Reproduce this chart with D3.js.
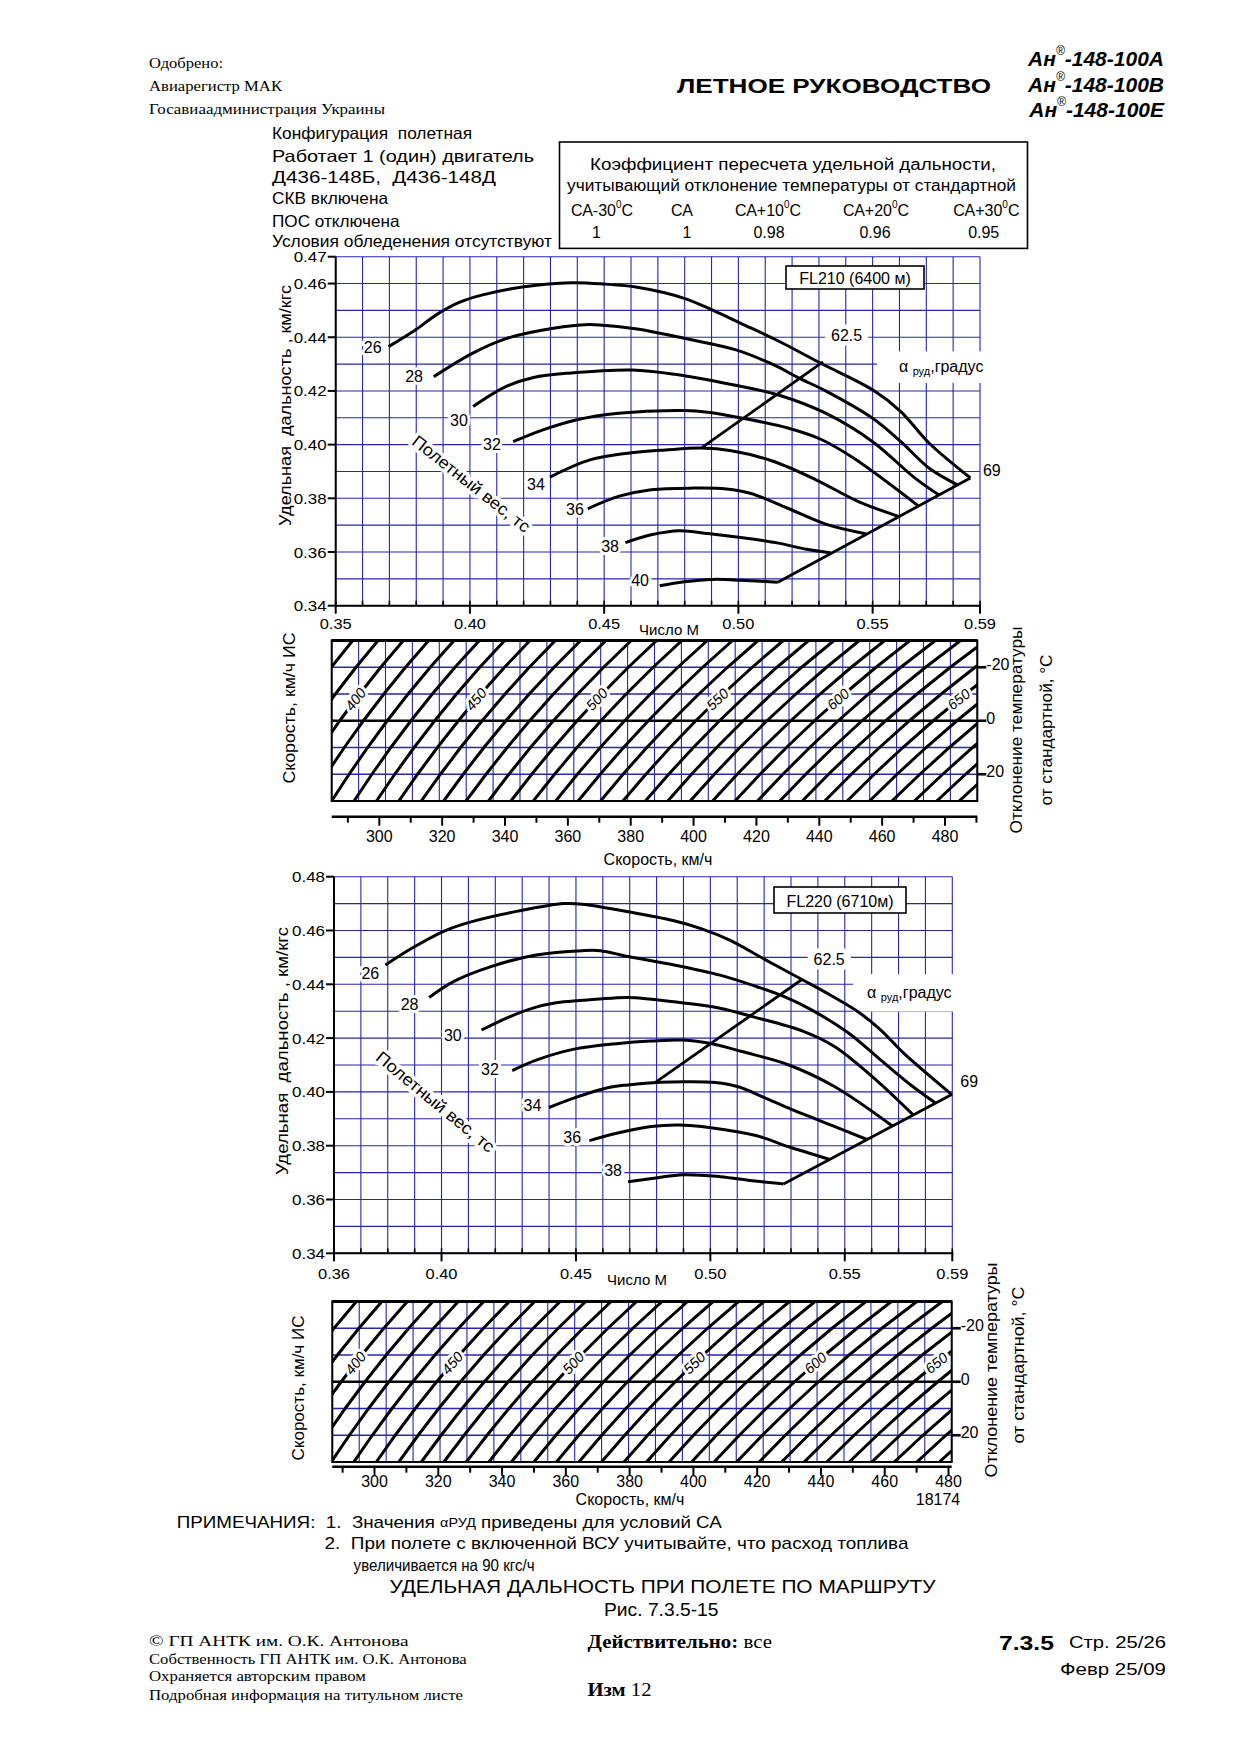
<!DOCTYPE html>
<html><head><meta charset="utf-8">
<script src="https://cdn.jsdelivr.net/npm/d3@7"></script>
<style>body{margin:0;background:#fff} text{white-space:pre}</style></head>
<body><script>
// ---------------- DATA ----------------
const coefLabels = ["СА-30", "СА", "СА+10", "СА+20", "СА+30"];
const coefValues = ["1", "1", "0.98", "0.96", "0.95"];
const infoLines = ["Конфигурация  полетная", "Работает 1 (один) двигатель", "Д436-148Б,  Д436-148Д", "СКВ включена", "ПОС отключена", "Условия обледенения отсутствуют"];

const fl210MachTicks = [0.35, 0.40, 0.45, 0.50, 0.55, 0.59];
const fl210RatioTicks = [0.34, 0.36, 0.38, 0.40, 0.42, 0.44, 0.46, 0.47];
const fl220MachTicks = [0.36, 0.40, 0.45, 0.50, 0.55, 0.59];
const fl220RatioTicks = [0.34, 0.36, 0.38, 0.40, 0.42, 0.44, 0.46, 0.48];
const fl210Weights = [26, 28, 30, 32, 34, 36, 38, 40];
const fl220Weights = [26, 28, 30, 32, 34, 36, 38];
const fl210LabelPos = [[0.3638,0.4363],[0.3792,0.4255],[0.3959,0.4091],[0.4082,0.4002],[0.4246,0.3851],[0.4391,0.3760],[0.4522,0.3619],[0.4634,0.3495]];
const fl220LabelPos = [[0.3735,0.4441],[0.3881,0.4324],[0.4042,0.4209],[0.4180,0.4082],[0.4338,0.3951],[0.4486,0.3829],[0.4638,0.3706]];

// FL210 specific range curves [Mach, km/kgf]
const fl210_26 = [[0.3697,0.4365],[0.3798,0.4428],[0.3880,0.4487],[0.3960,0.4530],[0.4044,0.4557],[0.4202,0.4588],[0.4377,0.4603],[0.45,0.4598],[0.4623,0.4586],[0.4798,0.4545],[0.4904,0.4501],[0.5009,0.4452],[0.5149,0.4386],[0.5307,0.4303],[0.55,0.4204],[0.5605,0.4123],[0.5711,0.4005],[0.5864,0.3876]];
const fl210_28 = [[0.3865,0.4253],[0.4009,0.4340],[0.4132,0.4394],[0.4272,0.4427],[0.4412,0.4446],[0.4482,0.4446],[0.4623,0.4431],[0.4798,0.4396],[0.4991,0.4353],[0.5132,0.4297],[0.5228,0.4247],[0.5325,0.4200],[0.55,0.4098],[0.5605,0.4011],[0.5711,0.3912],[0.5816,0.3850]];
const fl210_30 = [[0.4012,0.4142],[0.4132,0.4215],[0.4237,0.4250],[0.4377,0.4267],[0.4605,0.4278],[0.4763,0.4262],[0.4974,0.4224],[0.5149,0.4185],[0.5325,0.4117],[0.55,0.4011],[0.5658,0.3875],[0.5746,0.3813]];
const fl210_32 = [[0.4161,0.4011],[0.4272,0.4055],[0.4395,0.4092],[0.4553,0.4117],[0.4798,0.4127],[0.4886,0.4121],[0.5018,0.4098],[0.5184,0.4062],[0.5307,0.4020],[0.543,0.3949],[0.5670,0.3772]];
const fl210_34 = [[0.4298,0.3879],[0.4447,0.3943],[0.4588,0.3968],[0.4728,0.3980],[0.486,0.3987],[0.4974,0.3977],[0.5132,0.3937],[0.5289,0.3869],[0.5447,0.3788],[0.5596,0.3733]];
const fl210_36 = [[0.4439,0.3761],[0.4553,0.3807],[0.4675,0.3832],[0.4833,0.3838],[0.4956,0.3835],[0.5044,0.3819],[0.5184,0.3763],[0.5325,0.3704],[0.5474,0.3668]];
const fl210_38 = [[0.4579,0.3635],[0.4675,0.3664],[0.4781,0.3679],[0.4886,0.3669],[0.5009,0.3654],[0.5149,0.3633],[0.5254,0.3610],[0.5342,0.3597]];
const fl210_40 = [[0.4707,0.3474],[0.4798,0.3489],[0.4904,0.3498],[0.5009,0.3495],[0.5147,0.3487]];
const fl210_alpha69 = [[0.5147,0.3487],[0.5864,0.3876]];
const fl210_alpha625 = [[0.4865,0.3990],[0.5315,0.4308]];

// FL220 specific range curves
const fl220_26 = [[0.3791,0.4472],[0.3891,0.4535],[0.401,0.4598],[0.4113,0.4633],[0.4284,0.4672],[0.4455,0.4700],[0.4523,0.4698],[0.4694,0.4670],[0.4865,0.4636],[0.4968,0.4606],[0.507,0.4565],[0.5207,0.4490],[0.5344,0.4416],[0.5446,0.4360],[0.5549,0.4298],[0.5634,0.4230],[0.572,0.4143],[0.5898,0.3990]];
const fl220_28 = [[0.3954,0.4351],[0.4044,0.4410],[0.4181,0.4465],[0.4352,0.4509],[0.4523,0.4525],[0.4591,0.4525],[0.4694,0.4503],[0.4865,0.4472],[0.5036,0.4434],[0.5173,0.4391],[0.5275,0.4354],[0.5378,0.4304],[0.5515,0.4218],[0.5634,0.4118],[0.5754,0.4019],[0.5836,0.3960]];
const fl220_30 = [[0.4149,0.4230],[0.4255,0.4280],[0.4358,0.4317],[0.4455,0.4335],[0.4574,0.4344],[0.4694,0.4351],[0.4865,0.4335],[0.5036,0.4311],[0.5156,0.4280],[0.5344,0.4226],[0.5463,0.4168],[0.5617,0.4044],[0.5755,0.3914]];
const fl220_32 = [[0.4263,0.4079],[0.4352,0.4118],[0.4489,0.4158],[0.466,0.4180],[0.4779,0.4189],[0.4899,0.4193],[0.5002,0.4180],[0.5121,0.4149],[0.5292,0.4100],[0.5463,0.4019],[0.5677,0.3873]];
const fl220_34 = [[0.44,0.3942],[0.4489,0.3976],[0.4626,0.4017],[0.4694,0.4026],[0.4814,0.4036],[0.4916,0.4038],[0.5019,0.4035],[0.5104,0.4019],[0.5207,0.3976],[0.5344,0.3918],[0.5463,0.3871],[0.5583,0.3823]];
const fl220_36 = [[0.4550,0.3819],[0.466,0.3848],[0.4779,0.3871],[0.4882,0.3877],[0.5002,0.3867],[0.5173,0.3837],[0.5292,0.3796],[0.5446,0.3748]];
const fl220_38 = [[0.4694,0.3666],[0.4797,0.3680],[0.4899,0.3692],[0.5036,0.3685],[0.5156,0.3670],[0.5272,0.3658]];
const fl220_alpha69 = [[0.5272,0.3658],[0.5898,0.3990]];
const fl220_alpha625 = [[0.4797,0.4036],[0.5338,0.4416]];

// lower panels: true airspeed lines, km/h
const tasLines = [380,390,400,410,420,430,440,450,460,470,480,490,500,510,520,530,540,550,560,570,580,590,600,610,620,630,640,650,660,670,680,690,700];
const tasLabels = [400, 450, 500, 550, 600, 650];
const tempSamples = [-30, -20, -10, 0, 10, 20, 30];
const tempTicks = [-20, 0, 20];
const tempGrid = [-20, -10, 10, 20];
const speedTicks1 = [290,300,310,320,330,340,350,360,370,380,390,400,410,420,430,440,450,460,470,480,490];
const speedTicks2 = [290,300,310,320,330,340,350,360,370,380,390,400,410,420,430,440,450,460,470,480];
const speedLabels = [300,320,340,360,380,400,420,440,460,480];
const altitude1 = 6400, altitude2 = 6710;

// ---------------- DRAWING ----------------
const SANS = "'Liberation Sans', Arial, Helvetica, sans-serif";
const SERIF = "'Liberation Serif', 'Times New Roman', serif";
const GRID = "#2626b0";

const svg = d3.select('body').append('svg').attr('width',1240).attr('height',1755);
svg.append('rect').attr('width',1240).attr('height',1755).attr('fill','#fff');

function txt(parent, x, y, s, o = {}) {
  const t = parent.append('text').attr('x', x).attr('y', y)
    .attr('font-family', o.ff || SANS).attr('font-size', o.fs || 16)
    .attr('text-anchor', o.a || 'start').attr('dominant-baseline', 'central')
    .attr('fill', '#000');
  if (s != null) t.text(s);
  if (o.fw) t.attr('font-weight', o.fw);
  if (o.fst) t.attr('font-style', o.fst);
  if (o.len) t.attr('textLength', o.len).attr('lengthAdjust', 'spacingAndGlyphs');
  if (o.halo) t.attr('stroke', '#fff').attr('stroke-width', o.halo).attr('paint-order', 'stroke').attr('stroke-linejoin', 'round');
  if (o.rot != null) t.attr('transform', `rotate(${o.rot},${x},${y})`);
  return t;
}

// ---- header ----
txt(svg, 149, 63, "Одобрено:", {ff: SERIF, fs: 15, len: 74});
txt(svg, 149, 86, "Авиарегистр МАК", {ff: SERIF, fs: 15, len: 133});
txt(svg, 149, 108.5, "Госавиаадминистрация Украины", {ff: SERIF, fs: 15, len: 236});
txt(svg, 677, 85, "ЛЕТНОЕ РУКОВОДСТВО", {fs: 21, fw: 'bold', len: 314});
["А", "В", "Е"].forEach((v, i) => {
  const t = txt(svg, 1164, [58, 84, 108.5][i], null, {fs: 21, fw: 'bold', fst: 'italic', a: 'end'});
  t.append('tspan').text("Ан");
  t.append('tspan').attr('font-size', 12).attr('font-weight', 'normal').attr('dy', -7).text("®");
  t.append('tspan').attr('dy', 7).text("-148-100" + v);
});
infoLines.forEach((s, i) => {
  const lens = [200, 262, 224, 116, 127.5, 280];
  txt(svg, 272, [133, 155.5, 177, 198, 220.5, 240.6][i], s, {fs: 16.5, len: lens[i]});
});
svg.append('rect').attr('x', 559.5).attr('y', 142).attr('width', 468).attr('height', 106.4)
  .attr('fill', '#fff').attr('stroke', '#000').attr('stroke-width', 1.6);
txt(svg, 793, 164.5, "Коэффициент пересчета удельной дальности,", {fs: 16, a: 'middle', len: 406});
txt(svg, 791.5, 185.8, "учитывающий отклонение температуры от стандартной", {fs: 16, a: 'middle', len: 449});
const coefX = [602, 682, 768, 876, 986.4];
const coefVX = [596.5, 687, 769, 875, 983.7];
coefLabels.forEach((s, i) => {
  const t = txt(svg, coefX[i], 210.4, null, {fs: 16, a: 'middle'});
  t.append('tspan').text(s);
  if (i !== 1) {
    t.append('tspan').attr('font-size', 10).attr('dy', -6).text("0");
    t.append('tspan').attr('dy', 6).text("С");
  }
  txt(svg, coefVX[i], 232.8, coefValues[i], {fs: 16, a: 'middle'});
});

// ---- upper chart ----
function drawUpper(c) {
  const gGrid = svg.append('g'), gBg = svg.append('g'), gCurv = svg.append('g'), gTxt = svg.append('g');
  const [m0, m1] = c.x.domain(), [r0, r1] = c.y.domain();
  const nx = Math.round((m1 - m0) / 0.01), ny = Math.round((r1 - r0) / 0.01);
  for (let i = 0; i <= nx; i++) {
    const X = c.x(m0 + i * 0.01);
    gGrid.append('line').attr('x1', X).attr('x2', X).attr('y1', c.y(r0)).attr('y2', c.y(r1)).attr('stroke', GRID).attr('stroke-width', 1.1);
  }
  for (let j = 0; j <= ny; j++) {
    const Y = c.y(r0 + j * 0.01);
    gGrid.append('line').attr('x1', c.x(m0)).attr('x2', c.x(m1)).attr('y1', Y).attr('y2', Y).attr('stroke', GRID).attr('stroke-width', 1.1);
  }
  const ax = svg.append('g');
  ax.append('line').attr('x1', c.x(m0)).attr('x2', c.x(m0)).attr('y1', c.y(r0) + 1).attr('y2', c.y(r1)).attr('stroke', '#000').attr('stroke-width', 2);
  ax.append('line').attr('x1', c.x(m0)).attr('x2', c.x(m1) + 1).attr('y1', c.y(r0)).attr('y2', c.y(r0)).attr('stroke', '#000').attr('stroke-width', 2);
  for (let i = 0; i <= nx; i++) {
    const X = c.x(m0 + i * 0.01);
    ax.append('line').attr('x1', X).attr('x2', X).attr('y1', c.y(r0)).attr('y2', c.y(r0) - 5).attr('stroke', '#000').attr('stroke-width', 1.6);
  }
  c.xTicks.forEach(m => {
    ax.append('line').attr('x1', c.x(m)).attr('x2', c.x(m)).attr('y1', c.y(r0)).attr('y2', c.y(r0) + 8).attr('stroke', '#000').attr('stroke-width', 2);
    txt(ax, c.x(m), c.xLabY, d3.format('.2f')(m), {fs: 15.5, a: 'middle', len: 32});
  });
  c.yTicks.forEach(r => {
    ax.append('line').attr('x1', c.x(m0) - 8).attr('x2', c.x(m0)).attr('y1', c.y(r)).attr('y2', c.y(r)).attr('stroke', '#000').attr('stroke-width', 2);
    txt(ax, c.x(m0) - 9, c.y(r), d3.format('.2f')(r), {fs: 15.5, a: 'end', len: 33});
  });
  txt(ax, c.machTitle[0], c.machTitle[1], "Число М", {fs: 15, a: 'middle'});
  txt(ax, c.yTitle[0], c.yTitle[1], "Удельная  дальность , км/кгс", {fs: 16, a: 'middle', rot: -90, len: c.yTitle[2]});

  // curves
  const line = d3.line().x(d => c.x(d[0])).y(d => c.y(d[1])).curve(d3.curveCatmullRom.alpha(0.5));
  const straight = d3.line().x(d => c.x(d[0])).y(d => c.y(d[1]));
  c.curves.forEach(cv => gCurv.append('path').attr('d', line(cv)).attr('fill', 'none').attr('stroke', '#000').attr('stroke-width', 3).attr('stroke-linejoin', 'round'));
  [c.a69, c.a625].forEach(cv => gCurv.append('path').attr('d', straight(cv)).attr('fill', 'none').attr('stroke', '#000').attr('stroke-width', 2.8));

  // labels
  c.weights.forEach((w, i) => txt(gTxt, c.x(c.labelPos[i][0]), c.y(c.labelPos[i][1]), String(w), {fs: 16, a: 'middle', halo: 6}));
  const wt = c.weightTitle;
  txt(gTxt, c.x(wt[0]), c.y(wt[1]), "Полетный вес, тс", {fs: 17, a: 'middle', rot: wt[2], len: wt[3], halo: 7});
  const l625 = txt(gTxt, c.x(c.lbl625[0]), c.y(c.lbl625[1]), "62.5", {fs: 16, a: 'middle'});
  const la = txt(gTxt, c.x(c.lblAlpha[0]), c.y(c.lblAlpha[1]), null, {fs: 16});
  la.append('tspan').text("α ");
  la.append('tspan').attr('font-size', 11).attr('dy', 5).text("руд");
  la.append('tspan').attr('dy', -5).text(",градус");
  txt(gTxt, c.x(c.lbl69[0]), c.y(c.lbl69[1]), "69", {fs: 16, a: 'middle', halo: 5});
  const b1 = l625.node().getBBox();
  gBg.append('rect').attr('x', b1.x - 6).attr('y', b1.y - 2).attr('width', b1.width + 12).attr('height', b1.height + 4).attr('fill', '#fff');
  const b2 = la.node().getBBox();
  gBg.append('rect').attr('x', b2.x - c.alphaPad[0]).attr('y', b2.y - c.alphaPad[1]).attr('width', b2.width + c.alphaPad[0] + 8).attr('height', b2.height + 2 * c.alphaPad[1]).attr('fill', '#fff');
  // box
  const bx = c.box;
  gTxt.append('rect').attr('x', bx[0]).attr('y', bx[1]).attr('width', bx[2] - bx[0]).attr('height', bx[3] - bx[1]).attr('fill', '#fff').attr('stroke', '#000').attr('stroke-width', 1.6);
  txt(gTxt, (bx[0] + bx[2]) / 2, (bx[1] + bx[3]) / 2 + 1, bx[4], {fs: 16, a: 'middle'});
}

// ---- lower (temperature / speed) panel ----
function drawPanel(p) {
  const g = svg.append('g');
  const [m0, m1] = p.x.domain();
  const L = p.x(m0), R = p.x(m1), Tp = p.t(-30), B = p.t(30);
  const id = 'clip' + p.id;
  svg.append('clipPath').attr('id', id).append('rect').attr('x', L).attr('y', Tp).attr('width', R - L).attr('height', B - Tp);
  const nx = Math.round((m1 - m0) / 0.01);
  for (let i = 0; i <= nx; i++) {
    const X = p.x(m0 + i * 0.01);
    g.append('line').attr('x1', X).attr('x2', X).attr('y1', Tp).attr('y2', B).attr('stroke', GRID).attr('stroke-width', 1.1);
  }
  tempGrid.forEach(v => g.append('line').attr('x1', L).attr('x2', R).attr('y1', p.t(v)).attr('y2', p.t(v)).attr('stroke', GRID).attr('stroke-width', 1.3));
  g.append('line').attr('x1', L).attr('x2', R).attr('y1', p.t(0)).attr('y2', p.t(0)).attr('stroke', '#000').attr('stroke-width', 2.6);
  const tisa = 288.15 - 0.0065 * p.alt;
  const mach = (v, dT) => v / (3.6 * 20.0468 * Math.sqrt(tisa + dT));
  const lg = d3.line().x(d => p.x(mach(d.v, d.dT))).y(d => p.t(d.dT));
  tasLines.forEach(v => g.append('path').attr('clip-path', `url(#${id})`)
    .attr('d', lg(tempSamples.map(dT => ({v, dT})))).attr('fill', 'none').attr('stroke', '#000').attr('stroke-width', 3));
  g.append('rect').attr('x', L).attr('y', Tp).attr('width', R - L).attr('height', B - Tp).attr('fill', 'none').attr('stroke', '#000').attr('stroke-width', 2);
  g.append('line').attr('x1', L).attr('x2', R).attr('y1', Tp).attr('y2', Tp).attr('stroke', '#000').attr('stroke-width', 3);
  // TAS labels on lines
  tasLabels.forEach(v => {
    let lv = v;
    if (p.x(mach(lv, p.labDT)) < L + 15) lv = v + 10;
    const X = p.x(mach(lv, p.labDT)), Y = p.t(p.labDT);
    const xa = p.x(mach(lv, p.labDT - 3)), ya = p.t(p.labDT - 3);
    const xb = p.x(mach(lv, p.labDT + 3)), yb = p.t(p.labDT + 3);
    const ang = Math.atan2(ya - yb, xa - xb) * 180 / Math.PI;
    txt(g, X, Y, String(v), {fs: 14.5, a: 'middle', rot: ang, halo: 6, fst: 'italic'});
  });
  // right temperature axis
  tempTicks.forEach(v => {
    g.append('line').attr('x1', R).attr('x2', R + 9).attr('y1', p.t(v)).attr('y2', p.t(v)).attr('stroke', '#000').attr('stroke-width', 2.6);
    txt(g, R + 9, p.t(v) - 2.5, v < 0 ? "-" + Math.abs(v) : String(v), {fs: 16});
  });
  // speed axis
  g.append('line').attr('x1', L).attr('x2', R).attr('y1', p.axisY).attr('y2', p.axisY).attr('stroke', '#000').attr('stroke-width', 2.4);
  p.speedTicks.forEach(v => {
    const big = speedLabels.includes(v);
    g.append('line').attr('x1', p.s(v)).attr('x2', p.s(v)).attr('y1', p.axisY).attr('y2', p.axisY + (big ? 9 : 6)).attr('stroke', '#000').attr('stroke-width', 2);
  });
  speedLabels.forEach(v => txt(g, p.s(v), p.speedLabY, String(v), {fs: 16, a: 'middle'}));
  txt(g, p.speedTitle[0], p.speedTitle[1], "Скорость, км/ч", {fs: 16, a: 'middle'});
  txt(g, p.leftTitle[0], p.leftTitle[1], "Скорость, км/ч ИС", {fs: 16, a: 'middle', rot: -90, len: p.leftTitle[2]});
  txt(g, p.rTitle1[0], p.rTitle1[1], "Отклонение температуры", {fs: 16, a: 'middle', rot: -90, len: p.rTitle1[2]});
  txt(g, p.rTitle2[0], p.rTitle2[1], "от стандартной, °С", {fs: 16, a: 'middle', rot: -90, len: p.rTitle2[2]});
}

drawUpper({
  x: d3.scaleLinear([0.35, 0.59], [335.7, 980]), y: d3.scaleLinear([0.34, 0.47], [605.7, 256.7]),
  xTicks: fl210MachTicks, yTicks: fl210RatioTicks, xLabY: 623, machTitle: [669, 629], yTitle: [285, 405.5, 241],
  curves: [fl210_26, fl210_28, fl210_30, fl210_32, fl210_34, fl210_36, fl210_38, fl210_40],
  weights: fl210Weights, labelPos: fl210LabelPos, a69: fl210_alpha69, a625: fl210_alpha625,
  weightTitle: [0.4004, 0.3853, 38.3, 145], lbl625: [0.5403, 0.4408], lblAlpha: [0.5598, 0.4293], lbl69: [0.5944, 0.3905],
  alphaPad: [22, 6], box: [786, 266, 924, 289, "FL210 (6400 м)"]
});
drawPanel({
  id: 1, alt: altitude1, x: d3.scaleLinear([0.35, 0.59], [331.7, 977.3]), t: d3.scaleLinear([-30, 30], [640.5, 801]),
  s: d3.scaleLinear([300, 480], [379.3, 945]), speedTicks: speedTicks1, axisY: 816.7, speedLabY: 836.7, labDT: -8,
  speedTitle: [658, 859.5], leftTitle: [289, 708, 151], rTitle1: [1016, 730, 207], rTitle2: [1046, 730, 151]
});
drawUpper({
  x: d3.scaleLinear([0.36, 0.59], [334, 952.3]), y: d3.scaleLinear([0.34, 0.48], [1253.3, 876.7]),
  xTicks: fl220MachTicks, yTicks: fl220RatioTicks, xLabY: 1273, machTitle: [637, 1279], yTitle: [282, 1051, 248],
  curves: [fl220_26, fl220_28, fl220_30, fl220_32, fl220_34, fl220_36, fl220_38],
  weights: fl220Weights, labelPos: fl220LabelPos, a69: fl220_alpha69, a625: fl220_alpha625,
  weightTitle: [0.3976, 0.3962, 39.5, 148], lbl625: [0.5442, 0.4494], lblAlpha: [0.5583, 0.4373], lbl69: [0.5963, 0.4040],
  alphaPad: [14, 9], box: [774, 887, 906, 913, "FL220 (6710м)"]
});
drawPanel({
  id: 2, alt: altitude2, x: d3.scaleLinear([0.36, 0.59], [332.3, 951.7]), t: d3.scaleLinear([-30, 30], [1301.5, 1462]),
  s: d3.scaleLinear([300, 480], [374.5, 948.5]), speedTicks: speedTicks2, axisY: 1466.7, speedLabY: 1481.7, labDT: -7,
  speedTitle: [630, 1499.6], leftTitle: [298, 1388, 145], rTitle1: [991.5, 1370, 215], rTitle2: [1018, 1365, 157]
});
txt(svg, 938, 1499.6, "18174", {fs: 16, a: 'middle'});

// ---- footer ----
const n1 = txt(svg, 176.8, 1522, null, {fs: 17, len: 545});
n1.append('tspan').text("ПРИМЕЧАНИЯ:  1.  Значения ");
n1.append('tspan').attr('font-size', 13).text("αРУД");
n1.append('tspan').text(" приведены для условий СА");
txt(svg, 324.5, 1543.2, "2.  При полете с включенной ВСУ учитывайте, что расход топлива", {fs: 17, len: 584});
txt(svg, 353.6, 1564.5, "увеличивается на 90 кгс/ч", {fs: 16.5, len: 181});
txt(svg, 389.4, 1587, "УДЕЛЬНАЯ ДАЛЬНОСТЬ ПРИ ПОЛЕТЕ ПО МАРШРУТУ", {fs: 18, len: 546});
txt(svg, 604, 1610, "Рис. 7.3.5-15", {fs: 18, len: 114.5});
txt(svg, 149, 1640.6, "© ГП АНТК им. О.К. Антонова", {ff: SERIF, fs: 15, len: 259.5});
txt(svg, 149, 1658.5, "Собственность ГП АНТК им. О.К. Антонова", {ff: SERIF, fs: 15, len: 317.7});
txt(svg, 149, 1676.4, "Охраняется авторским правом", {ff: SERIF, fs: 15, len: 217});
txt(svg, 149, 1695.4, "Подробная информация на титульном листе", {ff: SERIF, fs: 15, len: 314});
const d1 = txt(svg, 587.5, 1640.6, null, {ff: SERIF, fs: 19, len: 184.5});
d1.append('tspan').attr('font-weight', 'bold').text("Действительно:");
d1.append('tspan').text(" все");
const d2 = txt(svg, 587.5, 1688.7, null, {ff: SERIF, fs: 19, len: 64});
d2.append('tspan').attr('font-weight', 'bold').text("Изм");
d2.append('tspan').text(" 12");
txt(svg, 999, 1642.8, "7.3.5", {fs: 21, fw: 'bold', len: 55});
txt(svg, 1166, 1642.8, "Стр. 25/26", {fs: 17, a: 'end', len: 97});
txt(svg, 1166, 1669.7, "Февр 25/09", {fs: 17, a: 'end', len: 106});
</script></body></html>
